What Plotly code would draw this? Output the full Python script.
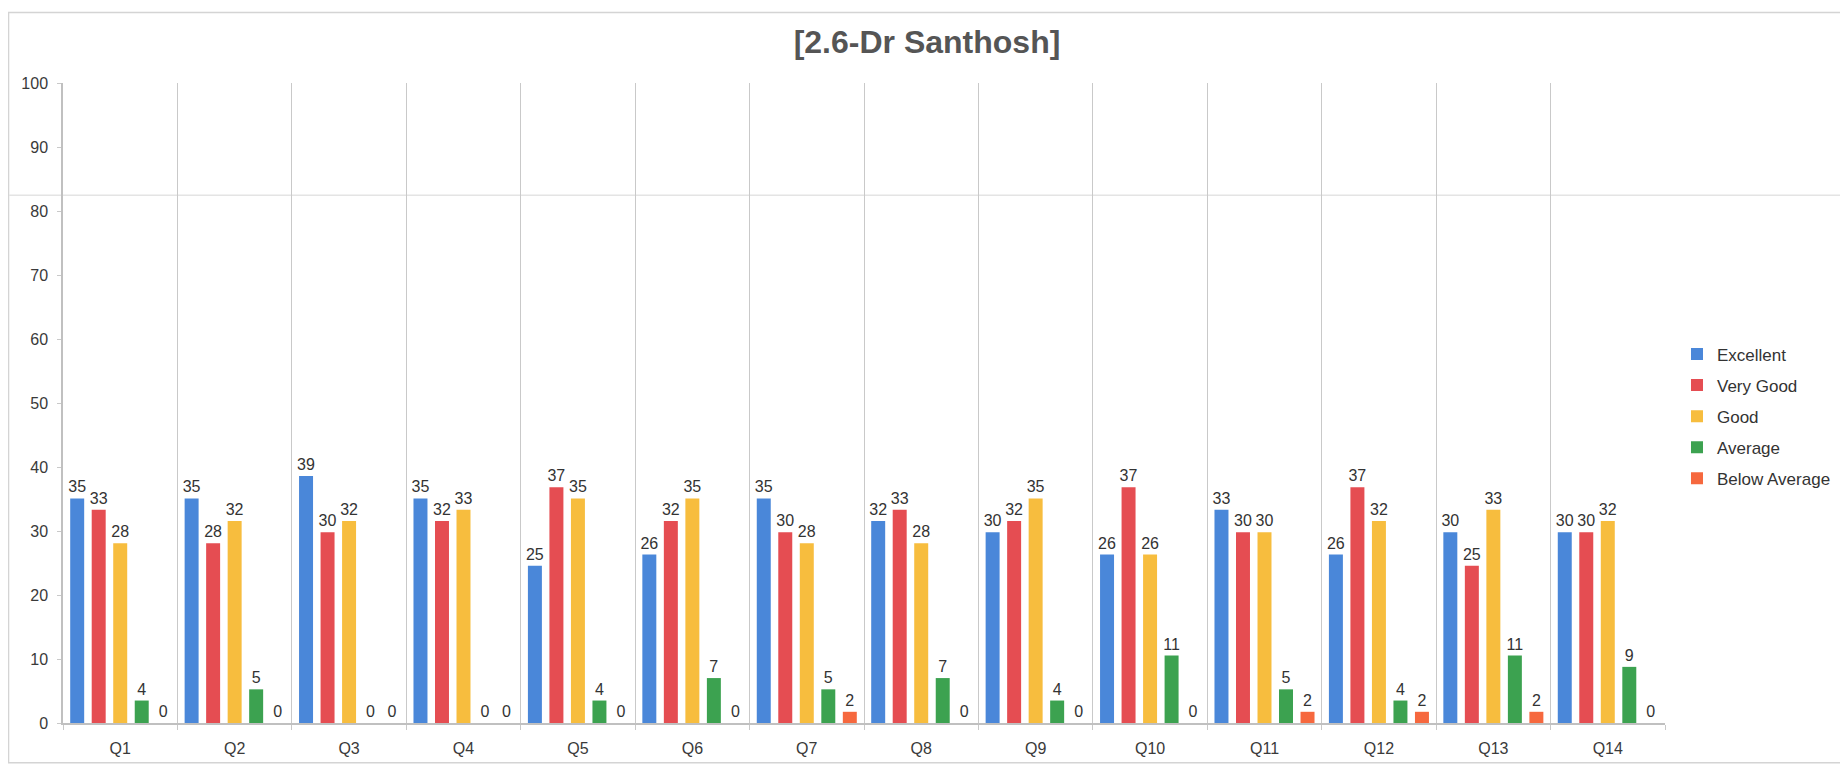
import plotly.graph_objects as go

categories = ["Q1", "Q2", "Q3", "Q4", "Q5", "Q6", "Q7", "Q8", "Q9", "Q10", "Q11", "Q12", "Q13", "Q14"]
excellent = [35.09, 35.09, 38.60, 35.09, 24.56, 26.32, 35.09, 31.58, 29.82, 26.32, 33.33, 26.32, 29.82, 29.82]
very_good = [33.33, 28.07, 29.82, 31.58, 36.84, 31.58, 29.82, 33.33, 31.58, 36.84, 29.82, 36.84, 24.56, 29.82]
good = [28.07, 31.58, 31.58, 33.33, 35.09, 35.09, 28.07, 28.07, 35.09, 26.32, 29.82, 31.58, 33.33, 31.58]
average = [3.51, 5.26, 0, 0, 3.51, 7.02, 5.26, 7.02, 3.51, 10.53, 5.26, 3.51, 10.53, 8.77]
below_average = [0, 0, 0, 0, 0, 0, 1.75, 0, 0, 0, 1.75, 1.75, 1.75, 0]

series = [
    ("Excellent", excellent, "#4a87d9"),
    ("Very Good", very_good, "#e54d52"),
    ("Good", good, "#f7bd3e"),
    ("Average", average, "#3ca250"),
    ("Below Average", below_average, "#f6683e"),
]

W, H = 1840, 761
L, R, T, B = 55, 182, 75, 42
PW, PH = W - L - R, H - T - B

fig = go.Figure()
for name, vals, color in series:
    fig.add_trace(go.Bar(
        x=categories, y=vals, name=name, legendgroup=name,
        marker=dict(color=color, line=dict(width=0)),
        texttemplate="%{y:.0f}", textposition="outside", cliponaxis=False,
        constraintext="none",
        textfont=dict(family="Liberation Sans, Arial", size=16, color="#333333"),
    ))

def px_x(x):
    return (x - L) / PW

def px_y(y):
    return (H - B - y) / PH

fig.update_layout(
    width=W, height=H,
    margin=dict(l=L, r=R, t=T, b=B),
    paper_bgcolor="white", plot_bgcolor="white",
    barmode="group", bargap=0.06, bargroupgap=0.35,
    font=dict(family="Liberation Sans, Arial", color="#444444"),
    title=dict(text="<b>[2.6-Dr Santhosh]</b>", xref="container", yref="container",
               x=919 / W, xanchor="center", y=1 - 34 / H, yanchor="middle",
               font=dict(size=32, color="#555555", family="Liberation Sans, Arial")),
    legend=dict(x=px_x(1670), xanchor="left", y=px_y(330), yanchor="top", tracegroupgap=6,
                font=dict(size=17, color="#333333"), itemwidth=30, bgcolor="rgba(0,0,0,0)"),
    shapes=[
        dict(type="rect", xref="paper", yref="paper",
             x0=px_x(0.5), x1=px_x(1838), y0=px_y(759), y1=px_y(4),
             line=dict(color="#d4d4d4", width=1.5), layer="below"),
        dict(type="line", xref="paper", yref="paper",
             x0=px_x(1), x1=px_x(1838), y0=px_y(188), y1=px_y(188),
             line=dict(color="#e4e4e4", width=1.5), layer="below"),
    ],
)
fig.update_xaxes(
    tickson="boundaries", showgrid=True, gridcolor="#c9c9c9", gridwidth=1.2,
    ticks="outside", ticklen=5, tickcolor="#c9c9c9",
    showline=True, linecolor="#c0c0c0", linewidth=1.5,
    tickfont=dict(size=16, color="#3a3a3a"), ticklabelstandoff=10,
    range=[-0.5, 13.5],
)
fig.update_yaxes(
    range=[0, 100], dtick=10, showgrid=False, zeroline=False,
    ticks="outside", ticklen=4, tickcolor="#c9c9c9",
    showline=True, linecolor="#c0c0c0", linewidth=1.5,
    tickfont=dict(size=16, color="#3a3a3a"), ticklabelstandoff=6,
)

fig.write_html("out.html")
